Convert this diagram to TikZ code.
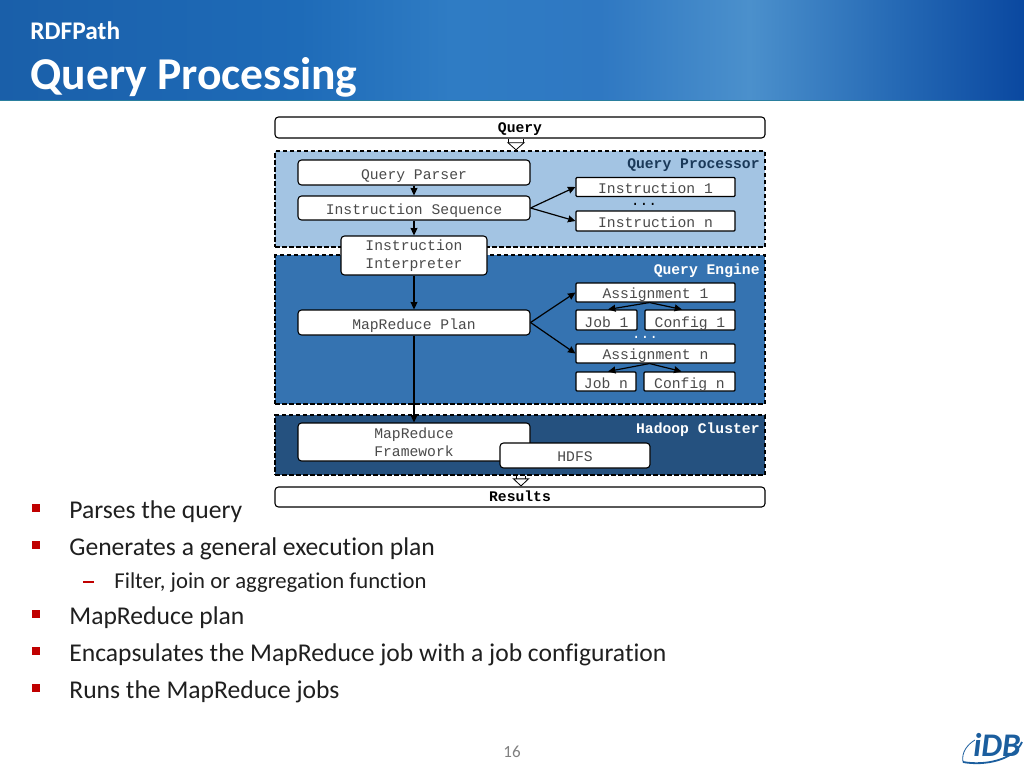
\documentclass[tikz,border=0pt]{standalone}
\usepackage{fontspec}
\setmainfont{Carlito}[Ligatures=CommonOff]
\newfontfamily\boxfont{Liberation Mono}
\usepackage{tikz}
\usetikzlibrary{arrows.meta}
\usetikzlibrary{positioning}
\definecolor{procblue}{HTML}{A3C4E3}
\definecolor{engineblue}{HTML}{3573B1}
\definecolor{clusterblue}{HTML}{25517F}
\definecolor{bulletred}{HTML}{C00000}
\definecolor{bodytext}{HTML}{1F1F1F}
\definecolor{boxtext}{HTML}{4A4A4A}
\definecolor{logoblue}{HTML}{1B5E9E}
\definecolor{headA}{HTML}{1A5FA9}
\definecolor{headB}{HTML}{1E6BB8}
\definecolor{headC}{HTML}{2F7CC4}
\definecolor{headD}{HTML}{2F78C2}
\definecolor{headE}{HTML}{4B90CC}
\definecolor{headF}{HTML}{2468B4}
\definecolor{headG}{HTML}{0A48A0}
\definecolor{headline}{HTML}{2A7F9E}
\pgfdeclarehorizontalshading{headershade}{100bp}{
  color(0bp)=(headA);
  color(25bp)=(headA);
  color(39.6bp)=(headB);
  color(47bp)=(headC);
  color(54.3bp)=(headD);
  color(61.6bp)=(headE);
  color(69bp)=(headF);
  color(75bp)=(headG);
  color(100bp)=(headG)}
\tikzset{
  layer/.style={draw=black,dashed,dash pattern=on 4.5pt off 2.5pt,line width=1.3pt,
    minimum width=490pt,inner sep=0pt},
  roundbox/.style={draw=black,fill=white,rounded corners=3.5pt,line width=1.1pt,
    inner sep=0pt,align=center,text=boxtext,font=\boxfont\fontsize{14.7}{18}\selectfont},
  oneline/.style={text height=12.5pt,text depth=0pt},
  flatbox/.style={roundbox,rounded corners=1pt,minimum height=19pt,text height=12pt,text depth=0pt},
  endbox/.style={roundbox,minimum width=490pt,text=black,text depth=0pt,
    font=\boxfont\bfseries\fontsize{14.7}{18}\selectfont},
  layerlabel/.style={anchor=base east,inner sep=0pt,font=\boxfont\bfseries\fontsize{14.7}{18}\selectfont},
  dotsnode/.style={anchor=base,inner sep=0pt,text height=1.5pt,text depth=0pt,font=\boxfont\fontsize{14.7}{18}\selectfont},
  hollow/.style={draw=black,line width=0.8pt,double=white},
  bulletmark/.style={fill=bulletred,minimum size=8.5pt,inner sep=0pt},
  dashmark/.style={fill=bulletred,minimum width=11pt,minimum height=1.6pt,inner sep=0pt},
  bodyline/.style={anchor=base west,inner sep=0pt,text=bodytext,font=\fontsize{25.6}{30}\selectfont},
  subline/.style={anchor=base west,inner sep=0pt,text=bodytext,font=\fontsize{22.7}{27}\selectfont},
  titleline/.style={anchor=base west,inner sep=0pt,text=white}
}
\begin{document}
\begin{tikzpicture}[x=1pt,y=-1pt,>={Stealth[length=7.5pt,width=7pt,inset=0.5pt]},thick]
  \useasboundingbox (0,0) rectangle (1024,768);

  % slide header
  \fill[shading=headershade] (0,0) rectangle (1024,100);
  \fill[headline] (0,99.5) rectangle (1024,101);
  \node[titleline,font=\bfseries\fontsize{25.4}{30}\selectfont] (subtitle) at (30,40) {RDFPath};
  \node[titleline,font=\bfseries\fontsize{45.6}{52}\selectfont] (title) at (30,89) {Query Processing};

  % layers
  \node[layer,fill=procblue,minimum height=96pt] (proc) at (520,199) {};
  \node[layer,fill=engineblue,minimum height=149pt] (engine) at (520,329.5) {};
  \node[layer,fill=clusterblue,minimum height=60pt] (cluster) at (520,445) {};
  \node[layerlabel] (proclabel) at (760,168.5) {\textcolor{clusterblue!70!black}{Query Processor}};
  \node[layerlabel,text=white] (enginelabel) at (760,274.5) {Query Engine};
  \node[layerlabel,text=white] (clusterlabel) at (760,433.5) {Hadoop Cluster};

  \node[endbox,minimum height=21pt,text height=9pt] (query) at (520,127.5) {Query};
  \node[endbox,minimum height=20pt,text height=8pt] (results) at (520,497) {Results};

  % left column
  \node[roundbox,oneline,minimum width=232pt,minimum height=25pt,text height=14pt] (parser) at (414,172.5) {Query Parser};
  \node[roundbox,oneline,minimum width=232pt,minimum height=24pt,text height=13.5pt] (sequence) [below of=parser,node distance=35.5pt] {Instruction Sequence};
  \node[roundbox,minimum width=146pt,minimum height=39pt] (interp) at (414,255.5) {Instruction\\[0pt]Interpreter};
  \node[roundbox,oneline,minimum width=232pt,minimum height=25pt,text height=14pt] (plan) at (414,322.5) {MapReduce Plan};
  \node[roundbox,minimum width=232pt,minimum height=38pt] (framework) at (414,442) {MapReduce\\Framework};
  \node[roundbox,oneline,minimum width=150pt,minimum height=25pt] (hdfs) at (575,455.5) {HDFS};

  % right column
  \node[flatbox,minimum width=159pt] (inst1) at (655.5,187) {Instruction 1};
  \node[flatbox,minimum width=159pt,minimum height=20pt,text height=13pt] (instn) at (655.5,221) {Instruction n};
  \node[dotsnode] (instdots) at (644,205) {...};
  \node[flatbox,minimum width=159pt] (asg1) at (655.5,292.5) {Assignment 1};
  \node[flatbox,minimum width=61pt,minimum height=20pt,text height=14pt] (job1) at (606.5,320) {Job 1};
  \node[flatbox,minimum width=90pt,minimum height=20pt,text height=14pt] (cfg1) at (690,320) {Config 1};
  \node[dotsnode,text=white] (asgdots) at (645,338) {...};
  \node[flatbox,minimum width=159pt] (asgn) at (655.5,353.5) {Assignment n};
  \node[flatbox,minimum width=60pt,text height=13pt] (jobn) at (606,381.5) {Job n};
  \node[flatbox,minimum width=91pt,text height=13pt] (cfgn) at (689.5,381.5) {Config n};

  \path[->,every edge/.style={draw=black,line width=1.2pt}]
    (parser) edge (sequence)
    (sequence) edge (interp)
    (sequence.east) edge (inst1.west)
        edge (instn.west)
    (interp) edge (plan)
    (plan) edge (framework)
    (plan.east) edge (asg1.west)
        edge (asgn.west)
    ([xshift=-6pt]asg1.south) edge ([xshift=1.5pt]job1.north)
        edge ([xshift=-8pt]cfg1.north)
    ([xshift=-6pt]asgn.south) edge ([xshift=2pt]jobn.north)
        edge ([xshift=-8pt]cfgn.north);

  \draw[hollow,double distance=13.5pt,-{Triangle[length=8pt,width=18pt,fill=white]}]
    ([xshift=-4pt]query.south) -- ([xshift=-4pt]proc.north);
  \draw[hollow,double distance=8.5pt,-{Triangle[length=8pt,width=17pt,fill=white]}]
    ([xshift=1pt]cluster.south) -- ([xshift=1pt]results.north);

  % bullet text
  \node[bulletmark] (m1) at (36,508) {};
  \node[bodyline] (b1) at (69,518) {Parses the query};
  \node[bulletmark] (m2) at (36,545) {};
  \node[bodyline] (b2) at (69,555) {Generates a general execution plan};
  \node[dashmark] (m3) at (88,582) {};
  \node[subline] (b3) at (114,588) {Filter, join or aggregation function};
  \node[bulletmark] (m4) at (36,614) {};
  \node[bodyline] (b4) at (69,624) {MapReduce plan};
  \node[bulletmark] (m5) at (36,651) {};
  \node[bodyline] (b5) at (69,661) {Encapsulates the MapReduce job with a job configuration};
  \node[bulletmark] (m6) at (36,688) {};
  \node[bodyline] (b6) at (69,698) {Runs the MapReduce jobs};

  % footer
  \node[inner sep=0pt,text=gray,font=\fontsize{17}{20}\selectfont] (page) at (512,752) {16};
  \node[inner sep=0pt,text=logoblue,font=\bfseries\itshape\fontsize{33}{36}\selectfont] (logo) at (997,745) {iDB};
  \draw[logoblue,line width=1.8pt] (963,762) .. controls (985,766) and (1014,760) .. (1022,742);
  \draw[logoblue,line width=0.8pt] (963,762) .. controls (961,752) and (968,744) .. (975,740);
\end{tikzpicture}
\end{document}
